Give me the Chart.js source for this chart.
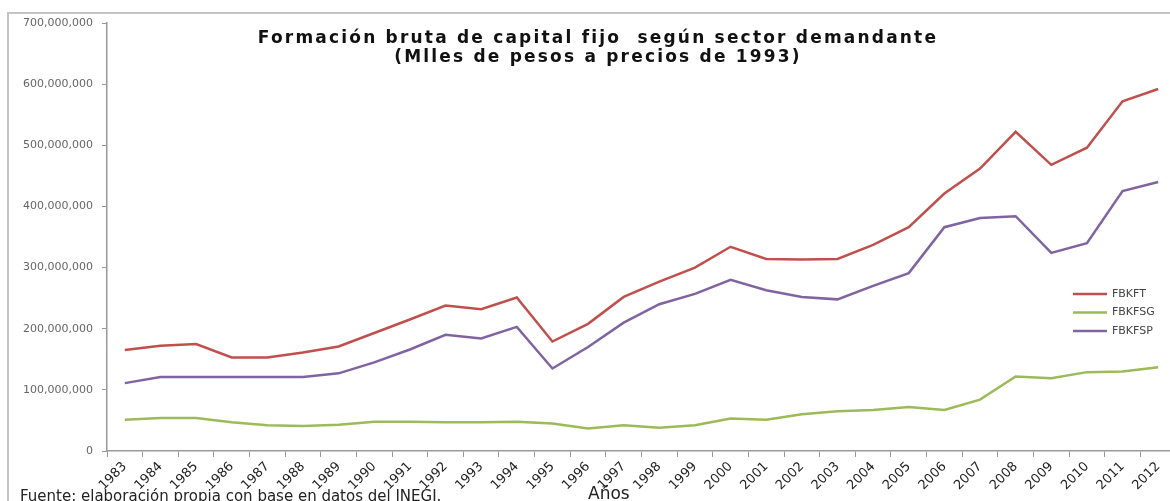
<!DOCTYPE html>
<html>
<head>
<meta charset="utf-8">
<script src="https://cdn.jsdelivr.net/npm/chart.js@4"></script>
<style>
  html, body { margin: 0; padding: 0; background: #fff; overflow: hidden; }
  #wrap { position: relative; width: 1170px; height: 501px; overflow: hidden; }
  #frame { position: absolute; left: 7px; top: 12px; width: 1200px; height: 520px; border: 2px solid #c4c4c4; }
  canvas { position: absolute; left: 0; top: 0; }
  .title { position: absolute; left: 0; width: 1196px; text-align: center; font-family: "DejaVu Sans", sans-serif; font-weight: bold; font-size: 17px; letter-spacing: 2.2px; color: #111; }
  .note { position: absolute; font-family: "DejaVu Sans", sans-serif; color: #222; white-space: nowrap; }
</style>
</head>
<body>
<div id="wrap">
  <div id="frame"></div>
  <canvas id="fbkf-chart" width="1178" height="501"></canvas>
  <div class="title" style="top:27px">Formación bruta de capital fijo&nbsp; según sector demandante</div>
  <div class="title" style="top:46px">(Mlles de pesos a precios de 1993)</div>
  <div class="note" style="left:20px; top:487px; font-size:15px">Fuente: elaboración propia con base en datos del INEGI.</div>
  <div class="note" style="left:588px; top:483px; font-size:17px">Años</div>
</div>
<script>
const years = ['1983', '1984', '1985', '1986', '1987', '1988', '1989', '1990', '1991', '1992',
  '1993', '1994', '1995', '1996', '1997', '1998', '1999', '2000', '2001', '2002',
  '2003', '2004', '2005', '2006', '2007', '2008', '2009', '2010', '2011', '2012'];

// millones de miles de pesos
const fbkft = [165, 172, 175, 153, 153, 161, 171, 193, 215, 238,
  232, 251, 179, 208, 252, 277, 300, 334, 314, 313,
  314, 337, 366, 421, 462, 522, 468, 496, 572, 592];
const fbkfsg = [51, 54, 54, 47, 42, 41, 43, 48, 48, 47,
  47, 48, 45, 37, 42, 38, 42, 53, 51, 60,
  65, 67, 72, 67, 84, 122, 119, 129, 130, 137];
const fbkfsp = [111, 121, 121, 121, 121, 121, 127, 145, 166, 190,
  184, 203, 135, 170, 210, 240, 257, 280, 263, 252,
  248, 270, 291, 366, 381, 384, 324, 340, 425, 440];

const seriesNames = ['FBKFT', 'FBKFSG', 'FBKFSP'];
const seriesColors = ['#C0504D', '#9BBB59', '#8064A2'];
const M = 1000000;

// legend drawn inside the plot area, like the original
const insideLegend = {
  id: 'insideLegend',
  afterDraw(chart) {
    const ctx = chart.ctx;
    ctx.save();
    ctx.font = '11px "DejaVu Sans", sans-serif';
    ctx.textBaseline = 'middle';
    chart.data.datasets.forEach((ds, i) => {
      const y = 294 + i * 18.5;
      ctx.strokeStyle = ds.borderColor;
      ctx.lineWidth = 2.5;
      ctx.beginPath();
      ctx.moveTo(1073, y);
      ctx.lineTo(1107, y);
      ctx.stroke();
      ctx.fillStyle = '#444';
      ctx.fillText(ds.label, 1112, y);
    });
    ctx.restore();
  },
};

function buildDataset(i, values) {
  return {
    label: seriesNames[i],
    data: values.map(v => v * M),
    borderColor: seriesColors[i],
    backgroundColor: seriesColors[i],
    borderWidth: 2.5,
    pointRadius: 0,
    tension: 0,
  };
}

new Chart(document.getElementById('fbkf-chart'), {
  type: 'line',
  data: {
    labels: years,
    datasets: [buildDataset(0, fbkft), buildDataset(1, fbkfsg), buildDataset(2, fbkfsp)],
  },
  options: {
    responsive: false,
    animation: false,
    layout: { padding: { left: 0, right: 2, top: 23, bottom: 0 } },
    plugins: { legend: { display: false }, tooltip: { enabled: false } },
    scales: {
      x: {
        offset: true,
        grid: { display: true, offset: true, drawOnChartArea: false, drawTicks: true, tickLength: 6, color: '#999' },
        border: { display: true, color: '#999', width: 1.5 },
        ticks: {
          maxRotation: 45, minRotation: 45, autoSkip: false, padding: 2,
          color: '#222', font: { family: 'DejaVu Sans', size: 13 },
        },
        afterFit(scale) { scale.height = 50; },
      },
      y: {
        min: 0, max: 700 * M,
        ticks: {
          stepSize: 100 * M, padding: 9,
          color: '#666', font: { family: 'DejaVu Sans', size: 11 },
          callback: v => v.toLocaleString('en-US'),
        },
        grid: { display: true, drawOnChartArea: false, drawTicks: true, tickLength: 5, color: '#999' },
        border: { display: true, color: '#999', width: 1.5 },
        afterFit(scale) { scale.width = 107; },
      },
    },
  },
  plugins: [insideLegend],
});
</script>
</body>
</html>
